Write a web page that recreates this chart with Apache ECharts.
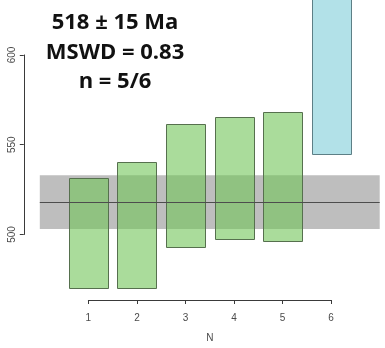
<!DOCTYPE html>
<html>
<head>
<meta charset="utf-8">
<script src="https://cdn.jsdelivr.net/npm/echarts@6/dist/echarts.min.js"></script>
<style>
  html, body { margin: 0; padding: 0; background: #ffffff; }
  #chart { width: 385px; height: 348px; }
</style>
</head>
<body>
<div id="chart"></div>
<script>
// Aliquot number and 2-sigma age intervals (Ma)
const aliquots = [1, 2, 3, 4, 5, 6];
const ageLow  = [469.8, 470.2, 492.9, 497.1, 496.5, 544.8];
const ageHigh = [531.3, 540.2, 561.6, 565.3, 568.4, 660];
const usedInMean = [true, true, true, true, true, false];

// Weighted mean result
const meanAge = 518;
const meanErr = 15;
const mswd = 0.83;

// Axis ticks
const xTicks = [1, 2, 3, 4, 5, 6];
const yTicks = [500, 550, 600];

// Plot region (pixels) and data ranges
const plot = { left: 39.8, top: 0, width: 339.9, height: 302.7 };
const xRange = [0, 7];
const yRange = [462, 630.6];
const barHalfWidth = 0.4;
const yAxisGap = 16;   // y axis sits this far left of the plot region

const px = x => plot.left + (x - xRange[0]) / (xRange[1] - xRange[0]) * plot.width;
const py = y => plot.top + plot.height - (y - yRange[0]) / (yRange[1] - yRange[0]) * plot.height;

const labelFont = { fontFamily: 'Liberation Sans, Arial, sans-serif', fontSize: 10, color: '#4a4a4a' };
const axisLineStyle = { color: '#3a3a3a', width: 1 };

const barData = aliquots.map((n, i) => [n, ageLow[i], ageHigh[i], usedInMean[i] ? 1 : 0]);
const nUsed = usedInMean.filter(Boolean).length;

const chart = echarts.init(document.getElementById('chart'), null, { renderer: 'canvas' });

chart.setOption({
  animation: false,
  backgroundColor: '#ffffff',
  grid: [
    // data region
    { left: plot.left, top: plot.top, width: plot.width, height: plot.height },
    // y axis spanning the labelled ticks only
    { left: plot.left - yAxisGap, width: plot.width, top: py(yTicks[yTicks.length - 1]), height: py(yTicks[0]) - py(yTicks[yTicks.length - 1]) },
    // x axis spanning the labelled ticks only
    { left: px(xTicks[0]), width: px(xTicks[xTicks.length - 1]) - px(xTicks[0]), top: plot.top, height: plot.height }
  ],
  xAxis: [
    { gridIndex: 0, type: 'value', min: xRange[0], max: xRange[1], show: false },
    { gridIndex: 1, type: 'value', min: 0, max: 1, show: false },
    {
      gridIndex: 2, type: 'value', min: xTicks[0], max: xTicks[xTicks.length - 1], interval: 1,
      position: 'bottom',
      axisLine: { show: true, lineStyle: axisLineStyle },
      axisTick: { show: true, length: 4, lineStyle: axisLineStyle },
      axisLabel: Object.assign({ margin: 13 }, labelFont),
      splitLine: { show: false },
      name: 'N', nameLocation: 'middle', nameGap: 33,
      nameTextStyle: labelFont
    }
  ],
  yAxis: [
    { gridIndex: 0, type: 'value', min: yRange[0], max: yRange[1], show: false },
    {
      gridIndex: 1, type: 'value', min: yTicks[0], max: yTicks[yTicks.length - 1], interval: 50,
      position: 'left',
      axisLine: { show: true, lineStyle: axisLineStyle },
      axisTick: { show: true, length: 4, lineStyle: axisLineStyle },
      axisLabel: Object.assign({ rotate: 90, margin: 7 }, labelFont),
      splitLine: { show: false }
    },
    { gridIndex: 2, type: 'value', min: 0, max: 1, show: false }
  ],
  series: [
    {
      // weighted mean uncertainty band across the full plot width
      type: 'custom', xAxisIndex: 0, yAxisIndex: 0, silent: true, z: 1,
      data: [[meanAge - meanErr, meanAge + meanErr]],
      renderItem: (params, api) => {
        const cs = params.coordSys;
        const top = api.coord([xRange[0], api.value(1)])[1];
        const bot = api.coord([xRange[0], api.value(0)])[1];
        return { type: 'rect', shape: { x: cs.x, y: top, width: cs.width, height: bot - top },
                 style: { fill: '#bebebe' } };
      }
    },
    {
      // age intervals of the aliquots
      type: 'custom', xAxisIndex: 0, yAxisIndex: 0, silent: true, z: 2,
      data: barData,
      renderItem: (params, api) => {
        const n = api.value(0), lo = api.value(1), hi = api.value(2), used = api.value(3);
        const p1 = api.coord([n - barHalfWidth, hi]);
        const p2 = api.coord([n + barHalfWidth, lo]);
        return {
          type: 'rect',
          shape: { x: Math.round(p1[0]) + 0.5, y: Math.round(p1[1]) + 0.5,
                   width: Math.round(p2[0] - p1[0]), height: Math.round(p2[1] - p1[1]) },
          style: used
            ? { fill: 'rgba(114,197,88,0.6)', stroke: '#56704e', lineWidth: 1 }
            : { fill: '#b2e1e8', stroke: '#5d7f86', lineWidth: 1 }
        };
      }
    },
    {
      // weighted mean line
      type: 'custom', xAxisIndex: 0, yAxisIndex: 0, silent: true, z: 3,
      data: [[meanAge]],
      renderItem: (params, api) => {
        const cs = params.coordSys;
        const y = Math.round(api.coord([xRange[0], api.value(0)])[1]) + 0.5;
        return { type: 'line', shape: { x1: cs.x, y1: y, x2: cs.x + cs.width, y2: y },
                 style: { stroke: '#4d4d4d', lineWidth: 1 } };
      }
    }
  ],
  graphic: [
    {
      type: 'text', x: 115, y: 52.5, z: 10,
      style: {
        text: meanAge + ' \u00b1 ' + meanErr + ' Ma\nMSWD = ' + mswd.toFixed(2) + '\nn = ' + nUsed + '/' + aliquots.length,
        align: 'center', verticalAlign: 'middle',
        font: 'bold 22px "Open Sans", "Noto Sans", sans-serif',
        lineHeight: 29.5,
        fill: '#111111'
      }
    }
  ]
});
</script>
</body>
</html>
